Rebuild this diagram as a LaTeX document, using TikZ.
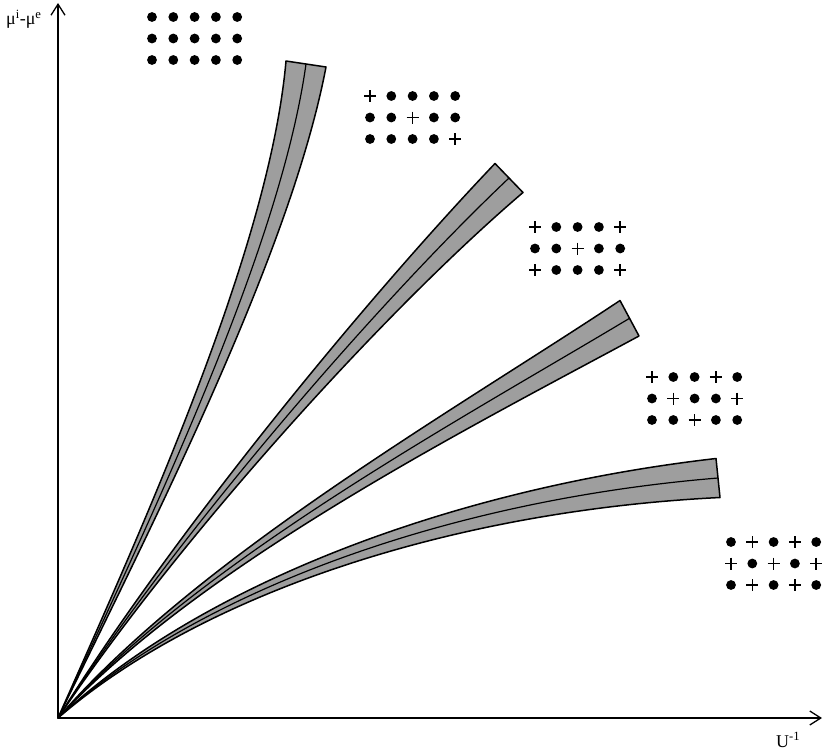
\documentclass[tikz,border=0pt]{standalone}
\usepackage{fontspec}
\setmainfont{Liberation Serif}
\usetikzlibrary{arrows.meta}

% one row list per line of sites: d = filled site, p = plus
\newcommand{\sitegrid}[3]{%
  \foreach \row [count=\j from 0] in {#3} {
    \foreach \s [count=\i from 0] in \row {
      \if\s p
        \draw[line width=1.5pt] (#1+21.3*\i-6,#2+21.5*\j) -- ++(12,0)
          (#1+21.3*\i,#2+21.5*\j-6) -- ++(0,12);
      \else
        \fill (#1+21.3*\i,#2+21.5*\j) circle (4.9);
      \fi
    }
  }
}

\begin{document}
\begin{tikzpicture}[x=1pt,y=-1pt,
  band/.style={fill=black!38,draw=black,line width=1.5pt,line join=round},
  mid/.style={draw=black,line width=1.2pt},
  axis/.style={line width=1.5pt,-{Straight Barb[length=11pt,width=14pt,line width=1.3pt]}},
  lbl/.style={font=\fontsize{18}{21}\selectfont,inner sep=0pt}]
  \useasboundingbox (0,0) rectangle (824,752);
  \coordinate (O) at (58,718);

  % bands
  \filldraw[band] (O) .. controls (146.4,518.3) and (269.6,246.4) .. (286,61)
    -- (326,67) .. controls (290.4,253.6) and (153.6,521.7) .. (O) -- cycle;
  \draw[mid] (O) .. controls (150,520) and (280,250) .. (306,64);

  \filldraw[band] (O) .. controls (176.8,527.6) and (372,292.5) .. (495,163.5)
    -- (523,192.5) .. controls (388,307.5) and (183.2,532.4) .. (O) -- cycle;
  \draw[mid] (O) .. controls (180,530) and (380,300) .. (509,178);

  \filldraw[band] (O) .. controls (197.6,556.8) and (454.6,410.4) .. (620,300.5)
    -- (639,336) .. controls (465.4,429.6) and (202.4,563.2) .. (O) -- cycle;
  \draw[mid] (O) .. controls (200,560) and (460,420) .. (630,318);

  \filldraw[band] (O) .. controls (198.1,586.5) and (447.7,489.3) .. (716,458.5)
    -- (720,497.5) .. controls (452.3,510.7) and (201.9,593.5) .. (O) -- cycle;
  \draw[mid] (O) .. controls (200,590) and (450,500) .. (718,478);

  % axes
  \draw[axis] (O) -- (58,3);
  \draw[axis] (O) -- (822,718);
  \node[lbl,anchor=base west] (ylab) at (6,25) {μ\textsuperscript{i}-μ\textsuperscript{e}};
  \node[lbl,anchor=base west] (xlab) at (776,747) {U\textsuperscript{-1}};

  % lattices
  \sitegrid{152}{17}{{d,d,d,d,d},{d,d,d,d,d},{d,d,d,d,d}}
  \sitegrid{370}{96}{{p,d,d,d,d},{d,d,p,d,d},{d,d,d,d,p}}
  \sitegrid{535}{227}{{p,d,d,d,p},{d,d,p,d,d},{p,d,d,d,p}}
  \sitegrid{652}{377}{{p,d,d,p,d},{d,p,d,d,p},{d,d,p,d,d}}
  \sitegrid{731}{542}{{d,p,d,p,d},{p,d,p,d,p},{d,p,d,p,d}}
\end{tikzpicture}
\end{document}
